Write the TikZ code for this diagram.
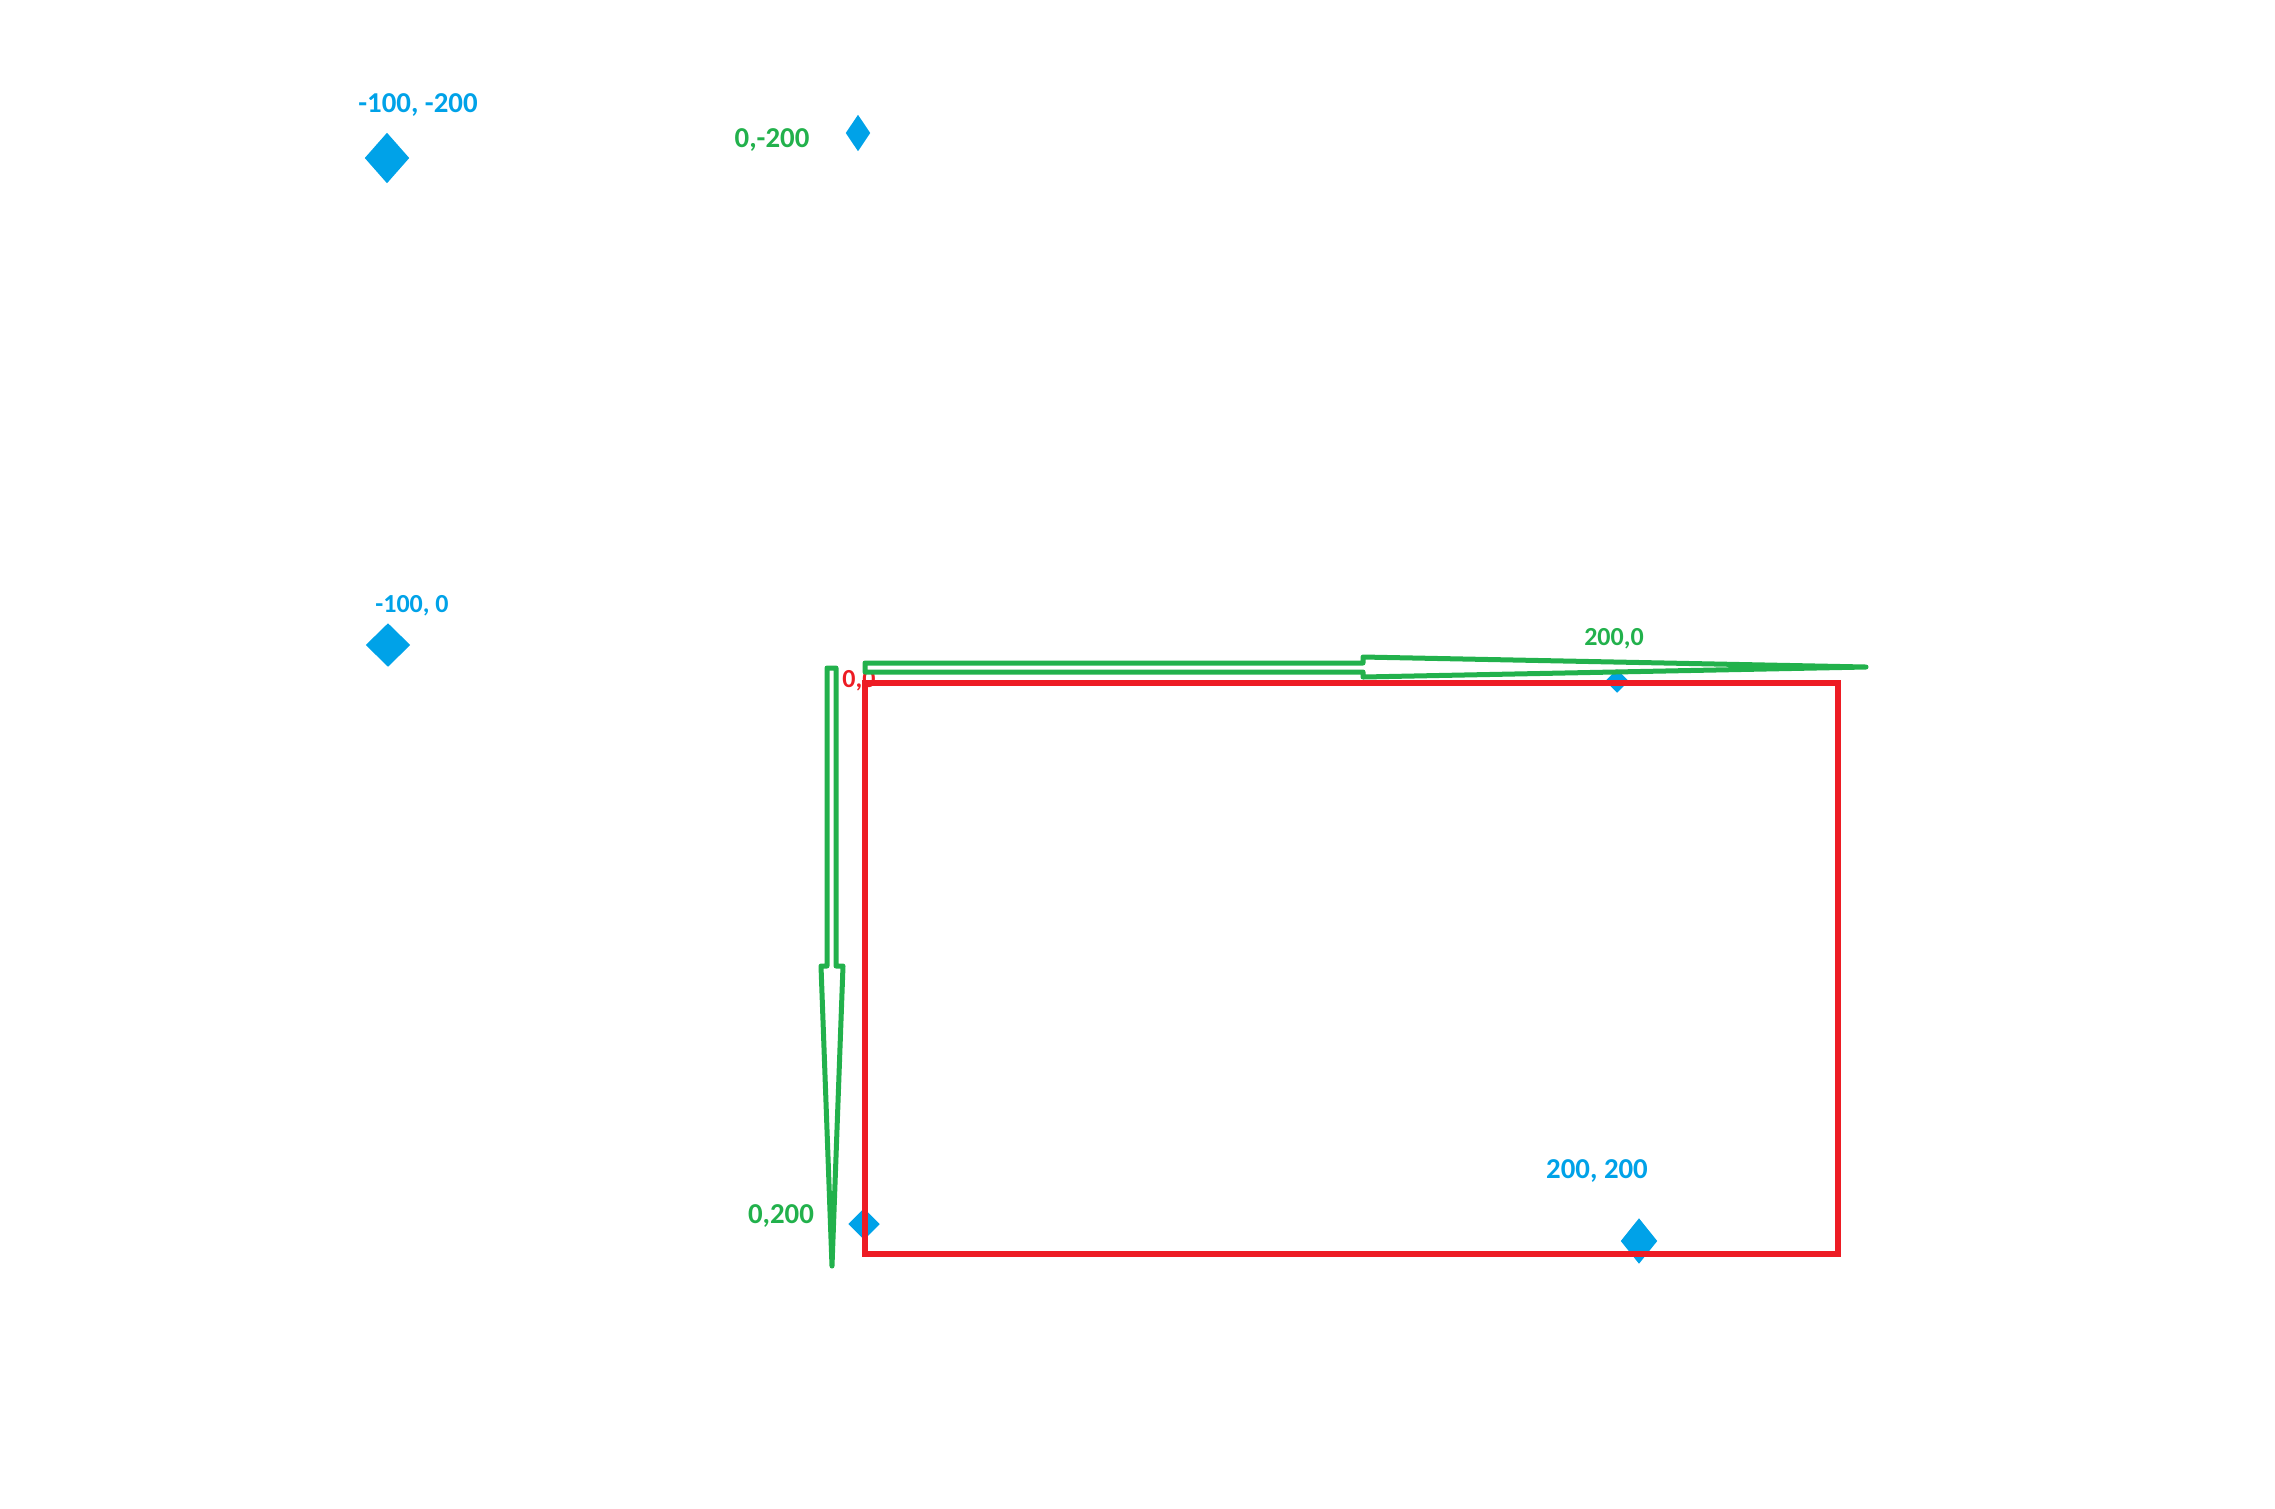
\documentclass[tikz,border=0pt]{standalone}
\usepackage{fontspec}
\setmainfont{Carlito}
\usetikzlibrary{positioning,shapes.geometric}
\definecolor{cvBlue}{HTML}{00A2E8}
\definecolor{cvGreen}{HTML}{22B14C}
\definecolor{cvRed}{HTML}{ED1C24}
\tikzset{
  cv-pt/.style 2 args={
    diamond, fill=cvBlue, draw=none, inner sep=0pt,
    minimum width=#1, minimum height=#2
  },
  cv-lbl/.style={font=\bfseries\fontsize{8.2}{10}\selectfont, inner sep=0pt},
  cv-lbl-s/.style={font=\bfseries\fontsize{7.4}{9}\selectfont, inner sep=0pt},
  cv-frame/.style={draw=cvRed, line width=0.055cm},
  cv-axis/.style={draw=cvGreen, line width=0.05cm, line join=round}
}
\begin{document}
\begin{tikzpicture}[x=0.01cm, y=-0.01cm]
\useasboundingbox (0,0) rectangle (2275,1508);
% Points
\foreach \n/\x/\y/\w/\h in {a/387/158/4.5/5.1, b/858/133/2.5/3.7,
  c/388/645/4.5/4.4, d/1617/681/2.4/2.4, e/864/1224/3.2/3.2, f/1639/1241/3.7/4.6}{
  \node[cv-pt={\w mm}{\h mm}] (pt-\n) at (\x,\y) {};
}
% Labels
\node[cv-lbl, text=cvBlue] (lb-a) at (418,105) {-100, -200};
\node[cv-lbl, text=cvGreen] (lb-b) at (772,140) {0,-200};
\node[cv-lbl-s, text=cvBlue] (lb-c) at (412,606) {-100, 0};
\node[cv-lbl-s, text=cvRed] (lb-o) at (859,681) {0,0};
\node[cv-lbl-s, text=cvGreen] (lb-d) at (1614,639) {200,0};
\node[cv-lbl, text=cvGreen] (lb-e) at (781,1216) {0,200};
\node[cv-lbl, text=cvBlue] (lb-f) at (1597,1171) {200, 200};
% Frame
\coordinate (origin) at (865,683);
\draw[cv-frame] (origin) rectangle (1838,1254);
% Axes (hollow arrows)
\draw[cv-axis] (865,663) -- (1363,663) -- (1363,657) -- (1866,667)
  -- (1363,677) -- (1363,672) -- (865,672) -- cycle;
\draw[cv-axis] (827,668) -- (836,668) -- (836,966) -- (843,966) -- (832,1266)
  -- (821,966) -- (827,966) -- cycle;
\end{tikzpicture}
\end{document}
